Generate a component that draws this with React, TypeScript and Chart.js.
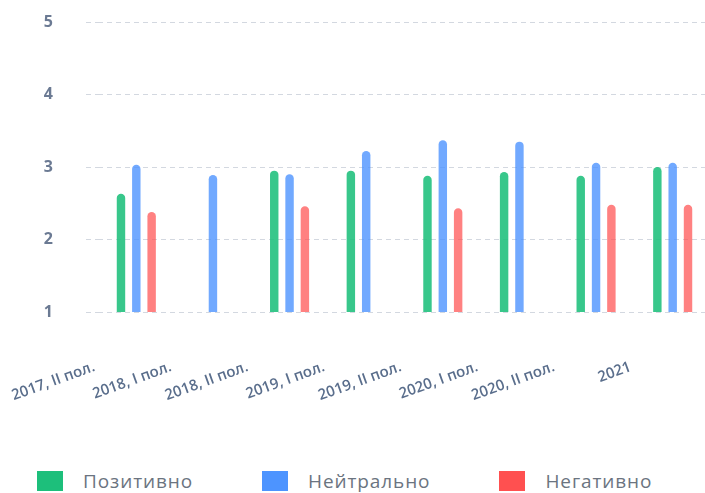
import React, { useEffect, useRef } from "react";
import { Chart, registerables } from "chart.js";

Chart.register(...registerables);

const categories = [
  "2017, II пол.",
  "2018, I пол.",
  "2018, II пол.",
  "2019, I пол.",
  "2019, II пол.",
  "2020, I пол.",
  "2020, II пол.",
  "2021",
];
const positive = [2.63, null, 2.95, 2.95, 2.88, 2.93, 2.88, 3.0];
const neutral = [3.03, 2.89, 2.9, 3.22, 3.37, 3.35, 3.06, 3.06];
const negative = [2.38, null, 2.46, null, 2.43, null, 2.48, 2.48];
const yMin = 1;
const yMax = 5;
const yStep = 1;
const seriesNames = ["Позитивно", "Нейтрально", "Негативно"];
const seriesColors = ["#1DBF7B", "#4D94FF", "#FF5050"];
const barColors = ["rgba(29,191,123,0.88)", "rgba(77,148,255,0.8)", "rgba(255,80,80,0.72)"];

const FONT = "'Open Sans', 'DejaVu Sans', sans-serif";

export default function App() {
  const canvasRef = useRef<HTMLCanvasElement | null>(null);

  useEffect(() => {
    const canvas = canvasRef.current;
    if (!canvas) return;
    const seriesValues = [positive, neutral, negative];
    const chart = new Chart(canvas, {
      type: "bar",
      data: {
        labels: categories,
        datasets: seriesNames.map((name, i) => ({
          label: name,
          data: seriesValues[i],
          backgroundColor: barColors[i],
          borderWidth: 0,
          borderRadius: 5,
          borderSkipped: "start",
          categoryPercentage: 0.6,
          barPercentage: 0.55,
        })),
      },
      options: {
        responsive: false,
        animation: false,
        devicePixelRatio: 1,
        layout: { padding: { left: 0, top: 22, right: 0, bottom: 0 } },
        plugins: {
          legend: { display: false },
          tooltip: { enabled: false },
        },
        scales: {
          x: {
            type: "category",
            grid: { display: false, drawTicks: false },
            border: { display: false },
            ticks: {
              autoSkip: false,
              minRotation: 20,
              maxRotation: 20,
              padding: 46,
              labelOffset: -42,
              color: "#5A6E8C",
              font: { family: FONT, size: 15, weight: "600" },
            },
            afterFit: (s: any) => {
              s.height = 128;
              s.paddingLeft = 0;
              s.paddingRight = 0;
            },
          },
          y: {
            min: yMin,
            max: yMax,
            ticks: {
              stepSize: yStep,
              padding: 33,
              color: "#6B7A93",
              font: { family: FONT, size: 16, weight: "bold" },
            },
            grid: {
              color: "#D3D8E0",
              lineWidth: 1,
              drawTicks: true,
              tickLength: 12,
              tickColor: "#D3D8E0",
              tickBorderDash: [5, 4],
            },
            border: { display: false, dash: [5, 4] },
            afterFit: (s: any) => {
              s.width = 98;
              s.paddingTop = 10;
              s.paddingBottom = 0;
            },
          },
        },
      },
    });
    return () => chart.destroy();
  }, []);

  return (
    <div
      style={{
        position: "fixed",
        left: 0,
        top: 0,
        width: 711,
        height: 493,
        background: "#ffffff",
        overflow: "hidden",
      }}
    >
      <canvas
        ref={canvasRef}
        width={711}
        height={440}
        style={{ position: "absolute", left: 0, top: 0, width: 711, height: 440 }}
      />
      <div
        style={{
          position: "absolute",
          left: 37,
          top: 471,
          height: 20,
          display: "flex",
          alignItems: "center",
          gap: 69,
        }}
      >
        {seriesNames.map((name, i) => (
          <div key={name} style={{ display: "flex", alignItems: "center" }}>
            <span
              style={{
                display: "inline-block",
                width: 26,
                height: 20,
                background: seriesColors[i],
                marginRight: 20,
              }}
            />
            <span
              style={{
                fontFamily: FONT,
                fontSize: 19,
                letterSpacing: 0.9,
                color: "#6B7480",
                lineHeight: "20px",
                whiteSpace: "nowrap",
              }}
            >
              {name}
            </span>
          </div>
        ))}
      </div>
    </div>
  );
}
